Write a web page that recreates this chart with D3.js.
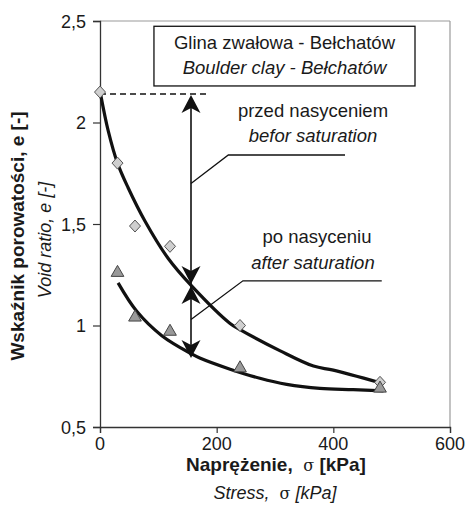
<!DOCTYPE html>
<html>
<head>
<meta charset="utf-8">
<script src="https://cdn.jsdelivr.net/npm/d3@7"></script>
<style>
  html, body { margin: 0; padding: 0; background: #fff; }
  svg { display: block; }
  text { font-family: "Liberation Sans", Arial, sans-serif; fill: #1a1a1a; white-space: pre; }
</style>
</head>
<body>
<svg id="chart" width="466" height="514"></svg>
<script>
// ---- data ----
const xTicks = [0, 200, 400, 600];
const yTicks = [0.5, 1, 1.5, 2, 2.5];
const yTickLabels = ["0,5", "1", "1,5", "2", "2,5"];

// measured points: before saturation (diamonds)
const beforeStress = [0, 30, 60, 120, 240, 480];
const beforeVoid   = [2.15, 1.80, 1.49, 1.39, 1.00, 0.72];
// measured points: after saturation (triangles)
const afterStress  = [30, 60, 120, 240, 480];
const afterVoid    = [1.26, 1.04, 0.97, 0.79, 0.69];

// fitted curves
const beforeCurveStress = [1, 14, 30, 48, 77, 117, 157, 223, 240, 309, 366, 400, 480];
const beforeCurveVoid   = [2.14, 1.96, 1.80, 1.68, 1.515, 1.33, 1.195, 1.01, 0.98, 0.875, 0.80, 0.78, 0.718];
const afterCurveStress  = [31, 63, 106, 157, 171, 223, 274, 320, 377, 434, 486];
const afterCurveVoid    = [1.21, 1.07, 0.95, 0.86, 0.84, 0.785, 0.74, 0.71, 0.69, 0.684, 0.678];

// annotation (data units)
const arrowStress = 156;
const arrowLevels = [2.135, 1.205, 1.195, 0.84];   // top tip, down tip, up tip, bottom tip
const dashLine = { from: 0, to: 188, e: 2.14 };

// ---- layout ----
const svg = d3.select("#chart");
const x = d3.scaleLinear().domain([0, 600]).range([100, 450]);
const y = d3.scaleLinear().domain([0.5, 2.5]).range([427, 21]);

// frame (top & right, grey)
svg.append("line").attr("x1", x(0)).attr("x2", x(600)).attr("y1", y(2.5)).attr("y2", y(2.5))
  .attr("stroke", "#9a9a9a").attr("stroke-width", 1.2);
svg.append("line").attr("x1", x(600)).attr("x2", x(600)).attr("y1", y(2.5)).attr("y2", y(0.5))
  .attr("stroke", "#9a9a9a").attr("stroke-width", 1.2);

// axes
const xAxis = d3.axisBottom(x).tickValues(xTicks).tickSize(6).tickFormat(() => "");
const yAxis = d3.axisLeft(y).tickValues(yTicks).tickSize(7).tickFormat(() => "");
const gx = svg.append("g").attr("transform", `translate(0,${y(0.5)})`).call(xAxis);
const gy = svg.append("g").attr("transform", `translate(${x(0)},0)`).call(yAxis);
[gx, gy].forEach(g => {
  g.selectAll("path.domain").attr("stroke", "#333").attr("stroke-width", 1.3);
  g.selectAll(".tick line").attr("stroke", "#333").attr("stroke-width", 1.2);
});

// tick labels
svg.append("g").selectAll("text").data(xTicks).join("text")
  .attr("x", d => x(d)).attr("y", y(0.5) + 22.5)
  .attr("text-anchor", "middle").attr("font-size", 18).text(d => d);
svg.append("g").selectAll("text").data(yTicks).join("text")
  .attr("x", x(0) - 14).attr("y", d => y(d) + 6.5)
  .attr("text-anchor", "end").attr("font-size", 18).text((d, i) => yTickLabels[i]);

// axis titles
const xt = svg.append("text").attr("x", 276).attr("y", 471).attr("text-anchor", "middle")
  .attr("font-size", 19).attr("font-weight", "bold");
xt.append("tspan").text("Naprężenie,  ");
xt.append("tspan").attr("font-weight", "normal").attr("font-family", "DejaVu Serif, serif").attr("font-size", 16).text("σ");
xt.append("tspan").text(" [kPa]");
const xt2 = svg.append("text").attr("x", 275).attr("y", 499).attr("text-anchor", "middle")
  .attr("font-size", 18).attr("font-style", "italic");
xt2.append("tspan").text("Stress,  ");
xt2.append("tspan").attr("font-style", "normal").attr("font-family", "DejaVu Serif, serif").attr("font-size", 16).text("σ");
xt2.append("tspan").text(" [kPa]");

svg.append("text").attr("transform", "translate(24,236) rotate(-90)").attr("text-anchor", "middle")
  .attr("font-size", 19).attr("font-weight", "bold").text("Wskaźnik porowatości, e [-]");
svg.append("text").attr("transform", "translate(51,240) rotate(-90)").attr("text-anchor", "middle")
  .attr("font-size", 18).attr("font-style", "italic").text("Void ratio, e [-]");

// title box
const boxX0 = 92.5, boxX1 = 540, boxE0 = 2.474, boxE1 = 2.18;
svg.append("rect").attr("x", x(boxX0)).attr("y", y(boxE0))
  .attr("width", x(boxX1) - x(boxX0)).attr("height", y(boxE1) - y(boxE0))
  .attr("fill", "#fff").attr("stroke", "#111").attr("stroke-width", 1.3);
const boxCx = (x(boxX0) + x(boxX1)) / 2;
svg.append("text").attr("x", boxCx).attr("y", 49).attr("text-anchor", "middle")
  .attr("font-size", 18.5).text("Glina zwałowa - Bełchatów");
svg.append("text").attr("x", boxCx).attr("y", 74).attr("text-anchor", "middle")
  .attr("font-size", 18.5).attr("font-style", "italic").text("Boulder clay - Bełchatów");

// dashed line
svg.append("line").attr("x1", x(dashLine.from)).attr("x2", x(dashLine.to))
  .attr("y1", y(dashLine.e)).attr("y2", y(dashLine.e))
  .attr("stroke", "#111").attr("stroke-width", 1.5).attr("stroke-dasharray", "6,4");

// curves
const line = d3.line().x(d => x(d[0])).y(d => y(d[1])).curve(d3.curveCatmullRom.alpha(0.5));
svg.append("path").attr("d", line(d3.zip(beforeCurveStress, beforeCurveVoid)))
  .attr("fill", "none").attr("stroke", "#111").attr("stroke-width", 3.2);
svg.append("path").attr("d", line(d3.zip(afterCurveStress, afterCurveVoid)))
  .attr("fill", "none").attr("stroke", "#111").attr("stroke-width", 3.2);

// vertical arrow line
const ax = x(arrowStress);
svg.append("line").attr("x1", ax).attr("x2", ax).attr("y1", y(arrowLevels[0]) + 4).attr("y2", y(arrowLevels[3]) - 4)
  .attr("stroke", "#111").attr("stroke-width", 1.6);
function arrowHead(tipY, dir) { // dir -1 = pointing up, +1 = pointing down
  const L = 18, N = 13, W = 9.5;
  const p = `M${ax},${tipY} L${ax - W},${tipY - dir * L} L${ax},${tipY - dir * N} L${ax + W},${tipY - dir * L} Z`;
  svg.append("path").attr("d", p).attr("fill", "#111");
}
arrowHead(y(arrowLevels[0]), -1);
arrowHead(y(arrowLevels[1]), 1);
arrowHead(y(arrowLevels[2]), -1);
arrowHead(y(arrowLevels[3]), 1);

// leader lines
const leader1 = [[arrowStress, 1.70], [220, 1.84], [420, 1.84]];
const leader2 = [[arrowStress, 1.03], [245, 1.22], [483, 1.22]];
const straight = d3.line().x(d => x(d[0])).y(d => y(d[1]));
[leader1, leader2].forEach(l => svg.append("path").attr("d", straight(l))
  .attr("fill", "none").attr("stroke", "#111").attr("stroke-width", 1.3));

// labels
svg.append("text").attr("x", 313).attr("y", 117).attr("text-anchor", "middle").attr("font-size", 18.5).text("przed nasyceniem");
svg.append("text").attr("x", 313).attr("y", 142).attr("text-anchor", "middle").attr("font-size", 18.5).attr("font-style", "italic").text("befor saturation");
svg.append("text").attr("x", 317).attr("y", 243).attr("text-anchor", "middle").attr("font-size", 18.5).text("po nasyceniu");
svg.append("text").attr("x", 313).attr("y", 269).attr("text-anchor", "middle").attr("font-size", 18.5).attr("font-style", "italic").text("after saturation");

// markers
const diamondShape = { draw(ctx) { const w = 5.5, h = 6; ctx.moveTo(0, -h); ctx.lineTo(w, 0); ctx.lineTo(0, h); ctx.lineTo(-w, 0); ctx.closePath(); } };
svg.append("g").selectAll("path").data(d3.zip(beforeStress, beforeVoid)).join("path")
  .attr("d", d3.symbol(diamondShape))
  .attr("transform", d => `translate(${x(d[0])},${y(d[1])})`)
  .attr("fill", "#cfcfcf").attr("stroke", "#555").attr("stroke-width", 1);
svg.append("g").selectAll("path").data(d3.zip(afterStress, afterVoid)).join("path")
  .attr("d", d3.symbol(d3.symbolTriangle, 70))
  .attr("transform", d => `translate(${x(d[0])},${y(d[1])})`)
  .attr("fill", "#999").attr("stroke", "#444").attr("stroke-width", 1);
</script>
</body>
</html>
